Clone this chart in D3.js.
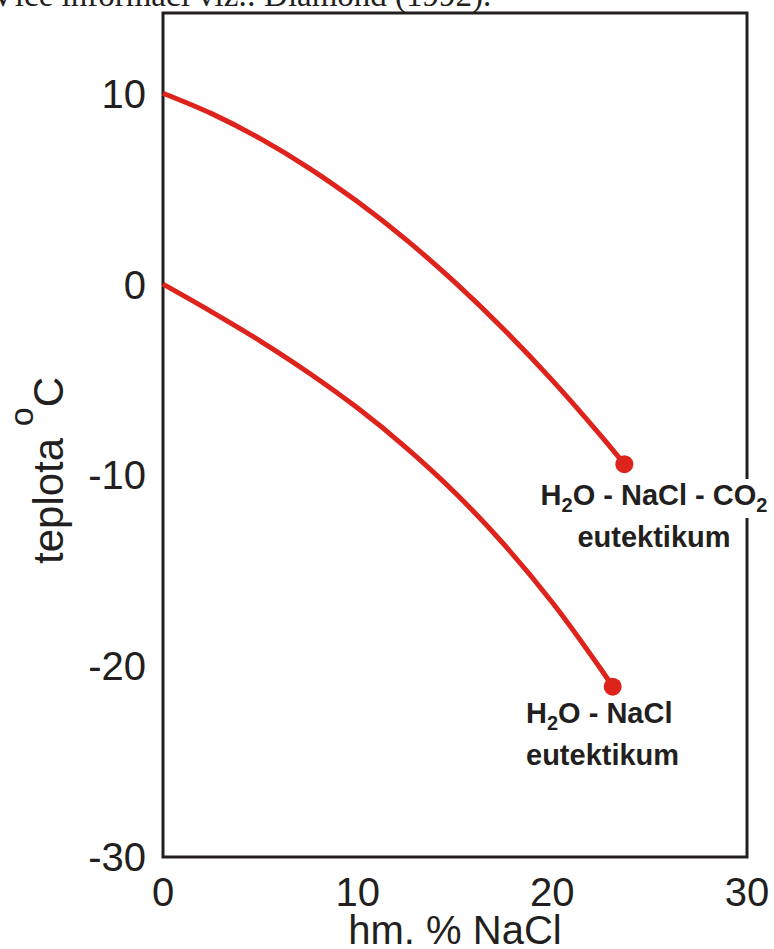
<!DOCTYPE html>
<html>
<head>
<meta charset="utf-8">
<script src="https://cdn.jsdelivr.net/npm/d3@7"></script>
<style>
  html, body { margin: 0; padding: 0; background: #fff; }
  svg { display: block; }
</style>
</head>
<body>
<script>
// Freezing curves: temperature (°C) vs. salinity (wt. % NaCl)
const co2Salinity = [0, 2.5, 5.0, 7.5, 10.0, 12.5, 15.0, 17.5, 20.0, 22.5, 23.7];
const co2Temp     = [10, 8.93, 7.62, 6.08, 4.31, 2.32, 0.09, -2.36, -5.04, -7.95, -9.43];
const naclSalinity = [0, 2.5, 5.0, 7.5, 10.0, 12.5, 15.0, 17.5, 20.0, 22.5, 23.1];
const naclTemp     = [0, -1.45, -2.98, -4.65, -6.49, -8.57, -10.92, -13.61, -16.67, -20.17, -21.08];

const xTicks = [0, 10, 20, 30];
const yTicks = [10, 0, -10, -20, -30];

const W = 774, H = 949;
const red = "#dd231c";
const ink = "#231f20";

const svg = d3.select("body").append("svg")
  .attr("width", W).attr("height", H);

const x = d3.scaleLinear().domain([0, 30]).range([163, 747]);
const y = d3.scaleLinear().domain([-30, 14.2]).range([857, 13]);

// caption line above the chart (partly cut by the page edge)
svg.append("text")
  .attr("x", -9).attr("y", 6)
  .attr("font-family", "'Liberation Serif', 'Times New Roman', serif")
  .attr("font-size", 33)
  .attr("fill", ink)
  .text("Více informací viz.: Diamond (1992).");

// frame
svg.append("rect")
  .attr("x", x(0)).attr("y", y(14.2))
  .attr("width", x(30) - x(0)).attr("height", y(-30) - y(14.2))
  .attr("fill", "none").attr("stroke", ink).attr("stroke-width", 3);

const sans = "'Liberation Sans', Arial, Helvetica, sans-serif";

// y tick labels
svg.append("g").selectAll("text").data(yTicks).join("text")
  .attr("x", 146).attr("y", d => y(d)).attr("dy", "0.36em")
  .attr("text-anchor", "end")
  .attr("font-family", sans).attr("font-size", 40).attr("fill", ink)
  .text(d => d);

// x tick labels
svg.append("g").selectAll("text").data(xTicks).join("text")
  .attr("x", d => x(d)).attr("y", 906)
  .attr("text-anchor", "middle")
  .attr("font-family", sans).attr("font-size", 40).attr("fill", ink)
  .text(d => d);

// x axis title
svg.append("text")
  .attr("x", x(15)).attr("y", 944)
  .attr("text-anchor", "middle")
  .attr("font-family", sans).attr("font-size", 40).attr("fill", ink)
  .text("hm. % NaCl");

// y axis title with raised degree "o"
const yt = svg.append("text")
  .attr("transform", "translate(63,564) rotate(-90)")
  .attr("font-family", sans).attr("font-size", 42).attr("fill", ink);
yt.append("tspan").text("teplota ");
yt.append("tspan").attr("font-size", 34).attr("dy", -30).text("o");
yt.append("tspan").attr("dy", 30).text("C");

// curves
const line = d3.line()
  .x(d => x(d[0])).y(d => y(d[1]))
  .curve(d3.curveCatmullRom.alpha(0.5));

const series = [
  { xs: co2Salinity, ys: co2Temp },
  { xs: naclSalinity, ys: naclTemp }
];

series.forEach(s => {
  const pts = s.xs.map((v, i) => [v, s.ys[i]]);
  svg.append("path")
    .attr("d", line(pts))
    .attr("fill", "none").attr("stroke", red)
    .attr("stroke-width", 5).attr("stroke-linecap", "butt");
  const last = pts[pts.length - 1];
  svg.append("circle")
    .attr("cx", x(last[0])).attr("cy", y(last[1]))
    .attr("r", 9).attr("fill", red);
});

// eutectic labels; parts with sub:true are drawn as subscripts
function chemLabel(cx, by, anchor, parts, second, clearBox) {
  const g = svg.append("g");
  const t = g.append("text")
    .attr("x", cx).attr("y", by)
    .attr("text-anchor", anchor)
    .attr("font-family", sans).attr("font-weight", "bold")
    .attr("font-size", 29).attr("fill", ink);
  let shift = 0;
  parts.forEach(p => {
    const target = p.sub ? 7 : 0;
    const ts = t.append("tspan").attr("dy", target - shift).text(p.t);
    if (p.sub) ts.attr("font-size", 20);
    shift = target;
  });
  if (clearBox) {
    const bb = t.node().getBBox();
    g.insert("rect", "text")
      .attr("x", bb.x - 3).attr("y", bb.y)
      .attr("width", bb.width + 10).attr("height", bb.height + 2)
      .attr("fill", "#fff");
  }
  g.append("text")
    .attr("x", cx).attr("y", by + 42)
    .attr("text-anchor", anchor)
    .attr("font-family", sans).attr("font-weight", "bold")
    .attr("font-size", 29).attr("fill", ink)
    .text(second);
}

chemLabel(654, 505, "middle",
  [{ t: "H" }, { t: "2", sub: true }, { t: "O - NaCl - CO" }, { t: "2", sub: true }],
  "eutektikum", true);

chemLabel(526, 723, "start",
  [{ t: "H" }, { t: "2", sub: true }, { t: "O - NaCl" }],
  "eutektikum", false);
</script>
</body>
</html>
